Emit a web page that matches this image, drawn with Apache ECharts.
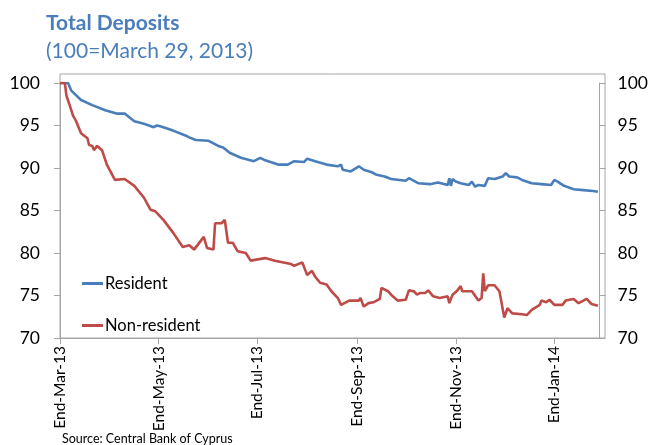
<!DOCTYPE html>
<html>
<head>
<meta charset="utf-8">
<title>Total Deposits</title>
<script src="https://cdn.jsdelivr.net/npm/echarts@6/dist/echarts.min.js"></script>
<style>
  html, body { margin: 0; padding: 0; background: #fff; }
  #chart { width: 651px; height: 445px; }
</style>
</head>
<body>
<div id="chart"></div>
<script>
// Day offsets counted from 29 March 2013 (index = 100 on that date)
const residentDays = [0, 5, 7, 13, 20, 28, 35, 40, 46, 52, 58, 60, 62, 70, 78, 80, 84, 92, 98, 101, 105, 112, 120, 124, 127, 135, 141, 145, 151, 153, 158, 159, 165, 172, 174, 175, 180, 185, 188, 193, 196, 201, 205, 214, 216, 222, 229, 234, 240, 241, 242, 243, 245, 248, 253, 255, 257, 259, 263, 265, 269, 274, 276, 278, 283, 286, 292, 298, 304, 306, 308, 312, 318, 324, 330, 333];
const residentValues = [100, 100, 99.1, 98.0, 97.4, 96.8, 96.4, 96.4, 95.5, 95.2, 94.8, 95.0, 94.9, 94.4, 93.8, 93.6, 93.3, 93.2, 92.6, 92.4, 91.8, 91.2, 90.8, 91.2, 90.9, 90.4, 90.4, 90.8, 90.7, 91.1, 90.8, 90.9, 90.4, 90.2, 90.4, 89.8, 89.6, 90.2, 89.8, 89.5, 89.2, 89.0, 88.7, 88.5, 88.8, 88.2, 88.1, 88.3, 88.0, 88.8, 87.9, 88.7, 88.4, 88.2, 88.0, 88.4, 87.8, 88.0, 87.9, 88.8, 88.7, 89.0, 89.4, 89.0, 88.9, 88.6, 88.2, 88.1, 88.0, 88.6, 88.4, 87.9, 87.5, 87.4, 87.3, 87.2];

const nonResidentDays = [0, 3, 4, 6, 8, 10, 13, 17, 18, 20, 21, 23, 26, 29, 34, 40, 46, 52, 56, 59, 64, 70, 76, 80, 83, 84, 89, 91, 95, 96, 100, 102, 104, 107, 110, 115, 118, 127, 133, 143, 145, 150, 153, 156, 158, 161, 165, 168, 172, 174, 179, 185, 186, 188, 191, 194, 198, 199, 203, 206, 209, 214, 216, 219, 221, 223, 226, 228, 231, 235, 240, 241, 243, 246, 248, 249, 255, 259, 261, 262, 263, 265, 269, 272, 273, 275, 277, 280, 286, 289, 292, 297, 298, 301, 303, 306, 311, 313, 318, 321, 326, 329, 333];
const nonResidentValues = [100, 100, 98.5, 97.4, 96.2, 95.5, 94.1, 93.5, 92.7, 92.6, 92.1, 92.6, 92.1, 90.4, 88.6, 88.7, 87.9, 86.5, 85.1, 84.9, 83.9, 82.4, 80.7, 80.9, 80.4, 80.4, 81.9, 80.6, 80.4, 83.5, 83.5, 83.9, 81.2, 81.2, 80.2, 80.0, 79.1, 79.4, 79.1, 78.7, 78.5, 78.9, 77.4, 77.9, 77.2, 76.5, 76.3, 75.5, 74.7, 73.9, 74.4, 74.4, 74.7, 73.7, 74.1, 74.2, 74.6, 75.9, 75.5, 74.9, 74.4, 74.5, 75.6, 75.5, 75.1, 75.3, 75.3, 75.6, 74.9, 74.7, 74.9, 74.1, 75.1, 75.6, 76.1, 75.5, 75.5, 74.4, 74.7, 77.6, 75.5, 76.2, 76.2, 75.5, 74.5, 72.4, 73.5, 72.9, 72.8, 72.7, 73.3, 73.9, 74.4, 74.2, 74.5, 73.9, 73.9, 74.4, 74.6, 74.1, 74.6, 74.0, 73.8];

// Month ticks, every two months from the base date
const tickDays = [0, 61, 122, 184, 245, 306];
const tickLabels = ['End-Mar-13', 'End-May-13', 'End-Jul-13', 'End-Sep-13', 'End-Nov-13', 'End-Jan-14'];

const seriesNames = ['Resident', 'Non-resident'];
const yTicks = { min: 70, max: 100, step: 5 };

const FONT = 'Lato';
const AXIS_GREY = '#a6a6a6';
const BLUE = '#4a7ebb';
const RED = '#be4b48';

function pairs(days, values) {
  return days.map((d, i) => [d, values[i]]);
}

const chart = echarts.init(document.getElementById('chart'), null, { renderer: 'canvas' });

function valueAxis(position, margin) {
  return {
    type: 'value',
    position: position,
    gridIndex: 0,
    min: yTicks.min,
    max: yTicks.max,
    interval: yTicks.step,
    axisLine: { show: true, lineStyle: { color: AXIS_GREY, width: 1 } },
    axisTick: { show: true, length: 6, lineStyle: { color: AXIS_GREY } },
    splitLine: { show: false },
    axisLabel: { color: '#000', fontFamily: FONT, fontSize: 17.5, margin: margin }
  };
}

chart.setOption({
  animation: false,
  backgroundColor: '#fff',
  title: [
    {
      text: 'Total Deposits',
      left: 41, top: 8,
      textStyle: { color: BLUE, fontFamily: FONT, fontSize: 21, fontWeight: 'bold' }
    },
    {
      text: '(100=March 29, 2013)',
      left: 41, top: 36,
      textStyle: { color: BLUE, fontFamily: FONT, fontSize: 21, fontWeight: 'normal' }
    },
    {
      text: 'Source: Central Bank of Cyprus',
      left: 57, top: 427,
      textStyle: { color: '#000', fontFamily: FONT, fontSize: 12.5, fontWeight: 'normal' }
    }
  ],
  legend: {
    orient: 'vertical',
    left: 82, top: 275,
    padding: 0,
    itemGap: 25,
    itemWidth: 21, itemHeight: 3,
    icon: 'rect',
    data: seriesNames,
    textStyle: { color: '#000', fontFamily: FONT, fontSize: 16.5, padding: [0, 0, 0, -3] }
  },
  grid: [
    { left: 60, right: 46, top: 83, bottom: 107, containLabel: false },
    // plot frame, a little taller than the value range
    { left: 60, right: 46, top: 74, bottom: 107, show: true, borderColor: AXIS_GREY, borderWidth: 1, backgroundColor: 'transparent' }
  ],
  xAxis: [{
    type: 'value',
    gridIndex: 0,
    min: 0,
    max: 334,
    axisLine: { show: true, onZero: false, lineStyle: { color: AXIS_GREY } },
    axisTick: { show: true, length: 6, customValues: tickDays, lineStyle: { color: AXIS_GREY } },
    splitLine: { show: false },
    axisLabel: {
      customValues: tickDays,
      rotate: 90,
      margin: 8,
      color: '#000',
      fontFamily: FONT,
      fontSize: 15.5,
      formatter: v => tickLabels[tickDays.indexOf(Math.round(v))] || ''
    }
  }],
  yAxis: [valueAxis('left', 20), valueAxis('right', 18)],
  series: [
    {
      name: seriesNames[0],
      type: 'line',
      xAxisIndex: 0, yAxisIndex: 0,
      data: pairs(residentDays, residentValues),
      symbol: 'none',
      lineStyle: { color: BLUE, width: 2.6 },
      itemStyle: { color: BLUE }
    },
    {
      name: seriesNames[1],
      type: 'line',
      xAxisIndex: 0, yAxisIndex: 0,
      data: pairs(nonResidentDays, nonResidentValues),
      symbol: 'none',
      lineStyle: { color: RED, width: 2.6 },
      itemStyle: { color: RED }
    }
  ]
});
</script>
</body>
</html>
